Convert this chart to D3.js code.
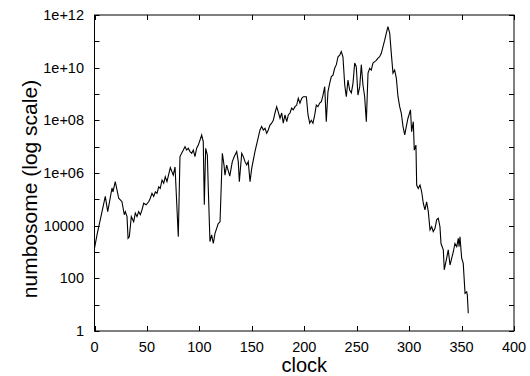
<!DOCTYPE html>
<html><head><meta charset="utf-8">
<script src="https://cdn.jsdelivr.net/npm/d3@7"></script>
<style>html,body{margin:0;padding:0;background:#fff;}svg{display:block;font-family:"Liberation Sans",Arial,sans-serif;}</style>
</head><body>
<script>
const clock = [0,2.4,10.3,12.6,16.7,17.6,19.8,23.1,26.2,28.4,29.4,31,32,33.2,35.1,37.4,38.9,40.5,42.1,43.7,45.3,46.9,49.1,51.7,53.2,54.8,56.4,58,59.6,61.2,62.7,64.4,66,67.5,69.1,72.3,75.1,76.8,79.9,81.5,84.7,86.3,87.9,89.4,91.1,92.7,94.2,95.8,97.4,99,102.2,103.7,104.7,106,107.6,108.5,110.1,111.7,113.3,114.9,116.5,118,119.7,121.9,123.5,124.4,126,129,131.4,133.3,135.6,137.1,138.1,140.4,141.9,143.5,145.1,146.6,148.3,149.9,153,157.8,159.4,161,162.6,164.2,165.7,167.3,168.9,170.5,172.1,173.7,175.2,176.9,178.5,180,181.6,183.3,184.8,186.4,188,189.5,191.2,192.8,194.3,195.9,197.6,199.1,202,203.6,205.2,206.7,208.3,210,211.5,213.1,214.7,216.3,217.9,219.5,221,222.6,224.3,225.8,227.4,229,230.6,232.2,233.8,235.3,236.9,238.6,240.1,241.7,243.3,244.9,246.5,248.1,249.6,251.2,252.9,254.4,256,257.6,259.2,260.8,262.4,263.9,265.5,267.2,268.7,270.3,271.9,273.5,275.1,276.7,278.2,279.8,281.5,283,284.6,286.2,287.8,289.4,291,292.5,294.2,295.8,297.3,298.9,301.3,302.4,304,304.9,306.5,307.2,308.7,310.4,312,313.5,315.1,316.7,318.3,319.9,321.5,323,324.7,326.3,327.8,329.4,330.4,332.6,333.5,335.8,337.3,339,340.6,342.1,343.7,345.4,346.9,347.6,348.5,350.1,351.6,353.3,354.9,355.5,356.4];
const numbosome = [1.4e3,4.5e3,1.3e5,3.4e4,2.7e5,1.9e5,4.7e5,1.1e5,8.1e4,2.6e4,3.4e4,2.2e4,3.3e3,3.8e3,2.2e4,1.4e4,3.0e4,2.2e4,3.4e4,2.6e4,4.0e4,7.1e4,6.2e4,8.1e4,1.1e5,1.7e5,1.3e5,1.9e5,1.7e5,3.0e5,2.6e5,5.4e5,4.1e5,7.2e5,4.7e5,1.6e6,8.3e5,1.7e6,3.8e3,4.2e6,7.4e6,1.0e7,7.4e6,8.7e6,6.5e6,5.6e6,7.4e6,4.2e6,8.7e6,1.15e7,2.75e7,1.55e7,6.2e4,8.7e6,4.8e6,2.6e5,2.5e3,4.5e3,2.1e3,5.1e3,7.9e3,1.2e4,1.4e4,5.6e6,2.0e6,8.3e5,2.0e6,7.6e5,2.7e6,4.2e6,6.5e6,2.7e6,4.7e5,5.6e6,4.2e6,2.7e6,2.0e6,2.7e6,4.7e5,1.5e6,6.5e6,4.3e7,5.8e7,4.3e7,5.0e7,3.2e7,4.3e7,6.6e7,7.8e7,1.0e8,1.9e8,3.3e8,2.1e8,1.2e8,1.9e8,7.8e7,1.6e8,8.9e7,1.6e8,1.9e8,2.9e8,2.5e8,3.3e8,3.8e8,6.9e8,4.5e8,6.9e8,7.9e8,7.9e8,1.6e8,7.8e7,1.0e8,7.8e7,1.6e8,3.8e8,3.3e8,4.5e8,5.1e8,9.1e8,1.9e9,8.9e7,1.2e9,2.6e9,4.6e9,5.2e9,9.5e9,1.3e10,2.6e10,3.0e10,4.1e10,2.6e10,2.2e9,7.9e8,3.4e9,1.4e9,1.1e9,2.6e9,1.5e10,1.1e10,9.1e8,1.9e9,1.3e10,2.2e9,7.9e8,8.9e7,6.2e9,9.5e9,8.1e9,1.5e10,1.7e10,1.9e10,2.3e10,2.6e10,3.5e10,6.3e10,1.1e11,2.0e11,3.6e11,2.0e11,3.5e10,6.2e9,8.1e9,4.0e9,7.9e8,3.3e8,1.9e8,5.8e7,2.8e7,5.8e7,1.2e8,2.5e8,3.7e7,8.9e7,7.4e6,1.15e7,3.5e5,2.6e5,3.5e5,1.9e5,7.1e4,4.0e4,8.1e4,3.4e4,6.9e3,9.1e3,5.9e3,7.9e3,1.7e4,1.9e4,9.1e3,2.1e3,1.2e3,210,580,1.2e3,320,580,1.0e3,2.1e3,1.6e3,3.3e3,1.6e3,3.8e3,580,370,27,31,23,4.7];
const xTicks = [0,50,100,150,200,250,300,350,400];
const yTicks = [1,10,100,1e3,1e4,1e5,1e6,1e7,1e8,1e9,1e10,1e11,1e12];
const yLabels = {1:"1",100:"100",1e4:"10000",1e6:"1e+06",1e8:"1e+08",1e10:"1e+10",1e12:"1e+12"};

const W = 530, H = 376;
const m = {left: 94.5, right: 514, top: 15, bottom: 331};
const svg = d3.select("body").append("svg").attr("width", W).attr("height", H);
const x = d3.scaleLinear().domain([0, 400]).range([m.left, m.right]);
const y = d3.scaleLog().domain([1, 1e12]).range([m.bottom, m.top]);

const tl = 5;
const g = svg.append("g");
g.append("rect").attr("x", m.left).attr("y", m.top).attr("width", m.right - m.left).attr("height", m.bottom - m.top)
  .attr("fill", "none").attr("stroke", "#000").attr("stroke-width", 1);
xTicks.forEach(t => {
  const px = Math.round(x(t)) + 0.5;
  g.append("line").attr("x1", px).attr("x2", px).attr("y1", m.bottom).attr("y2", m.bottom - tl).attr("stroke", "#000");
  g.append("line").attr("x1", px).attr("x2", px).attr("y1", m.top).attr("y2", m.top + tl).attr("stroke", "#000");
  g.append("text").attr("x", x(t)).attr("y", 352).attr("text-anchor", "middle").attr("font-size", 14.5).text(t);
});
yTicks.forEach(t => {
  const py = Math.round(y(t)) + 0.5;
  g.append("line").attr("x1", m.left).attr("x2", m.left + tl).attr("y1", py).attr("y2", py).attr("stroke", "#000");
  g.append("line").attr("x1", m.right).attr("x2", m.right - tl).attr("y1", py).attr("y2", py).attr("stroke", "#000");
  if (yLabels[t]) g.append("text").attr("x", 84).attr("y", y(t) + 5).attr("text-anchor", "end").attr("font-size", 14.5).text(yLabels[t]);
});
svg.append("text").attr("x", (m.left + m.right) / 2).attr("y", 372).attr("text-anchor", "middle").attr("font-size", 20).text("clock");
svg.append("text").attr("transform", `translate(37,189) rotate(-90)`).attr("text-anchor", "middle").attr("font-size", 21).text("numbosome (log scale)");

const data = clock.map((c, i) => [c, numbosome[i]]);
svg.append("path").datum(data)
  .attr("d", d3.line().x(d => x(d[0])).y(d => y(d[1])))
  .attr("fill", "none").attr("stroke", "#000").attr("stroke-width", 1.1).attr("stroke-linejoin", "miter");
</script>
</body></html>
